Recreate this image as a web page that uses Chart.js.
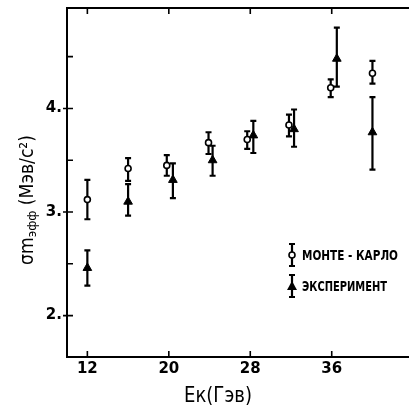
<!DOCTYPE html>
<html><head><meta charset="utf-8">
<script src="https://cdn.jsdelivr.net/npm/chart.js@4"></script>
<style>html,body{margin:0;padding:0;background:#fff;overflow:hidden}#wrap{width:409px;height:411px;position:relative}canvas{display:block}</style>
</head><body><div id="wrap"><canvas id="c"></canvas></div>
<script>
// Monte-Carlo (open circles)
const energiesMC = [12, 16, 19.8, 23.9, 27.7, 31.8, 35.9, 40];
const mcValues   = [3.12, 3.42, 3.45, 3.67, 3.70, 3.84, 4.20, 4.34];
const mcLow      = [2.93, 3.30, 3.35, 3.56, 3.61, 3.73, 4.11, 4.24];
const mcHigh     = [3.31, 3.52, 3.55, 3.77, 3.78, 3.94, 4.28, 4.46];
// Experiment (filled triangles)
const energiesExp = [12, 16, 20.4, 24.3, 28.3, 32.3, 36.5, 40];
const expValues   = [2.46, 3.10, 3.31, 3.50, 3.74, 3.80, 4.48, 3.77];
const expLow      = [2.29, 2.965, 3.135, 3.35, 3.57, 3.63, 4.21, 3.41];
const expHigh     = [2.63, 3.27, 3.47, 3.64, 3.88, 3.99, 4.78, 4.11];
// Ticks
const xTicks = [12, 20, 28, 36];
const yTicks = [2, 3, 4];
const yMinorTicks = [2.5, 3.5, 4.5];
const legendLabels = ['МОНТЕ - КАРЛО', 'ЭКСПЕРИМЕНТ'];

const FONT = "'DejaVu Sans', sans-serif";

function fitText(ctx, text, x, y, width, font, align) {
  ctx.save();
  ctx.font = font;
  const w = ctx.measureText(text).width;
  ctx.translate(x, y);
  ctx.scale(width / w, 1);
  ctx.textAlign = align || 'left';
  ctx.textBaseline = 'middle';
  ctx.fillText(text, 0, 0);
  ctx.restore();
}

const errorBars = {
  id: 'errorBars',
  beforeDatasetsDraw(chart) {
    const ctx = chart.ctx, xs = chart.scales.x, ys = chart.scales.y;
    ctx.save();
    ctx.strokeStyle = '#000';
    ctx.lineWidth = 2.2;
    chart.data.datasets.forEach(ds => {
      ds.data.forEach(p => {
        const x = xs.getPixelForValue(p.x);
        const y1 = ys.getPixelForValue(p.lo), y2 = ys.getPixelForValue(p.hi);
        ctx.beginPath();
        ctx.moveTo(x, y1); ctx.lineTo(x, y2);
        ctx.moveTo(x - 3, y1); ctx.lineTo(x + 3, y1);
        ctx.moveTo(x - 3, y2); ctx.lineTo(x + 3, y2);
        ctx.stroke();
      });
    });
    ctx.restore();
  }
};

const frame = {
  id: 'frame',
  afterDraw(chart) {
    const ctx = chart.ctx, a = chart.chartArea, xs = chart.scales.x, ys = chart.scales.y;
    const R = chart.width;
    ctx.save();
    ctx.strokeStyle = '#000';
    ctx.lineWidth = 2;
    ctx.beginPath();
    ctx.moveTo(R, a.top); ctx.lineTo(a.left, a.top);
    ctx.lineTo(a.left, a.bottom); ctx.lineTo(R, a.bottom);
    ctx.stroke();
    ctx.lineWidth = 1.6;
    ctx.beginPath();
    xTicks.forEach(v => {
      const x = xs.getPixelForValue(v);
      ctx.moveTo(x, a.bottom); ctx.lineTo(x, a.bottom - 6);
      ctx.moveTo(x, a.top); ctx.lineTo(x, a.top + 6);
    });
    yTicks.concat(yMinorTicks).forEach(v => {
      const y = ys.getPixelForValue(v);
      ctx.moveTo(a.left, y); ctx.lineTo(a.left + 6, y);
    });
    yTicks.forEach(v => {
      const y = ys.getPixelForValue(v);
      ctx.moveTo(a.left, y); ctx.lineTo(a.left - 4, y);
    });
    ctx.stroke();

    // legend
    const lx = 292;
    const rows = [{y: 255, style: 'circle', w: 96}, {y: 286, style: 'triangle', w: 85}];
    ctx.lineWidth = 2.2;
    rows.forEach((r, i) => {
      ctx.beginPath();
      ctx.moveTo(lx, r.y - 11); ctx.lineTo(lx, r.y + 11);
      ctx.moveTo(lx - 3, r.y - 11); ctx.lineTo(lx + 3, r.y - 11);
      ctx.moveTo(lx - 3, r.y + 11); ctx.lineTo(lx + 3, r.y + 11);
      ctx.stroke();
      if (r.style === 'circle') {
        ctx.beginPath(); ctx.arc(lx, r.y, 3, 0, Math.PI * 2);
        ctx.fillStyle = '#fff'; ctx.fill();
        ctx.lineWidth = 1.6; ctx.stroke(); ctx.lineWidth = 2.2;
      } else {
        ctx.beginPath();
        ctx.moveTo(lx, r.y - 5); ctx.lineTo(lx + 5, r.y + 4); ctx.lineTo(lx - 5, r.y + 4);
        ctx.closePath(); ctx.fillStyle = '#000'; ctx.fill();
      }
      ctx.fillStyle = '#000';
      fitText(ctx, legendLabels[i], 302, r.y + 1, r.w, "bold 14px " + FONT, 'left');
    });

    // x title
    ctx.fillStyle = '#000';
    fitText(ctx, 'Eк(Гэв)', 218, 397, 68, "21px " + FONT, 'center');

    // y title with subscript
    ctx.save();
    ctx.translate(28, 200);
    ctx.rotate(-Math.PI / 2);
    const parts = [
      {t: 'σm', f: "19px " + FONT, dy: 0},
      {t: 'эфф', f: "13px " + FONT, dy: 5},
      {t: ' (Мэв/с²)', f: "19px " + FONT, dy: 0}
    ];
    let total = 0;
    parts.forEach(p => { ctx.font = p.f; p.w = ctx.measureText(p.t).width; total += p.w; });
    ctx.scale(130 / total, 1);
    let cx = -total / 2;
    ctx.textAlign = 'left'; ctx.textBaseline = 'middle';
    parts.forEach(p => { ctx.font = p.f; ctx.fillText(p.t, cx, p.dy); cx += p.w; });
    ctx.restore();
    ctx.restore();
  }
};

const mk = (xs, v, lo, hi) => xs.map((x, i) => ({x: x, y: v[i], lo: lo[i], hi: hi[i]}));

new Chart(document.getElementById('c'), {
  type: 'scatter',
  data: {
    datasets: [
      {label: legendLabels[0], data: mk(energiesMC, mcValues, mcLow, mcHigh),
       pointStyle: 'circle', pointRadius: 3, pointBackgroundColor: '#fff',
       pointBorderColor: '#000', pointBorderWidth: 1.6},
      {label: legendLabels[1], data: mk(energiesExp, expValues, expLow, expHigh),
       pointStyle: 'triangle', pointRadius: 5, pointBackgroundColor: '#000',
       pointBorderColor: '#000', pointBorderWidth: 1}
    ]
  },
  options: {
    responsive: true, maintainAspectRatio: false, animation: false,
    layout: {padding: {top: 8, right: 0, left: 0, bottom: 0}},
    plugins: {legend: {display: false}, tooltip: {enabled: false}},
    scales: {
      x: {
        type: 'linear', min: 10, max: 43.0,
        afterBuildTicks: s => { s.ticks = xTicks.map(v => ({value: v})); },
        afterFit: s => { s.height = 54; s.paddingLeft = 0; s.paddingRight = 0; },
        grid: {display: false, drawTicks: false},
        border: {display: false},
        ticks: {color: '#000', padding: 3, font: {family: FONT, size: 15, weight: 'bold'},
                callback: v => String(v)}
      },
      y: {
        type: 'linear', min: 1.6, max: 4.97,
        afterBuildTicks: s => { s.ticks = yTicks.map(v => ({value: v})); },
        afterFit: s => { s.width = 67; s.paddingTop = 0; s.paddingBottom = 0; },
        grid: {display: false, drawTicks: false},
        border: {display: false},
        ticks: {color: '#000', padding: 5, font: {family: FONT, size: 15, weight: 'bold'},
                callback: v => v + '.'}
      }
    }
  },
  plugins: [errorBars, frame]
});
</script>
</body></html>
